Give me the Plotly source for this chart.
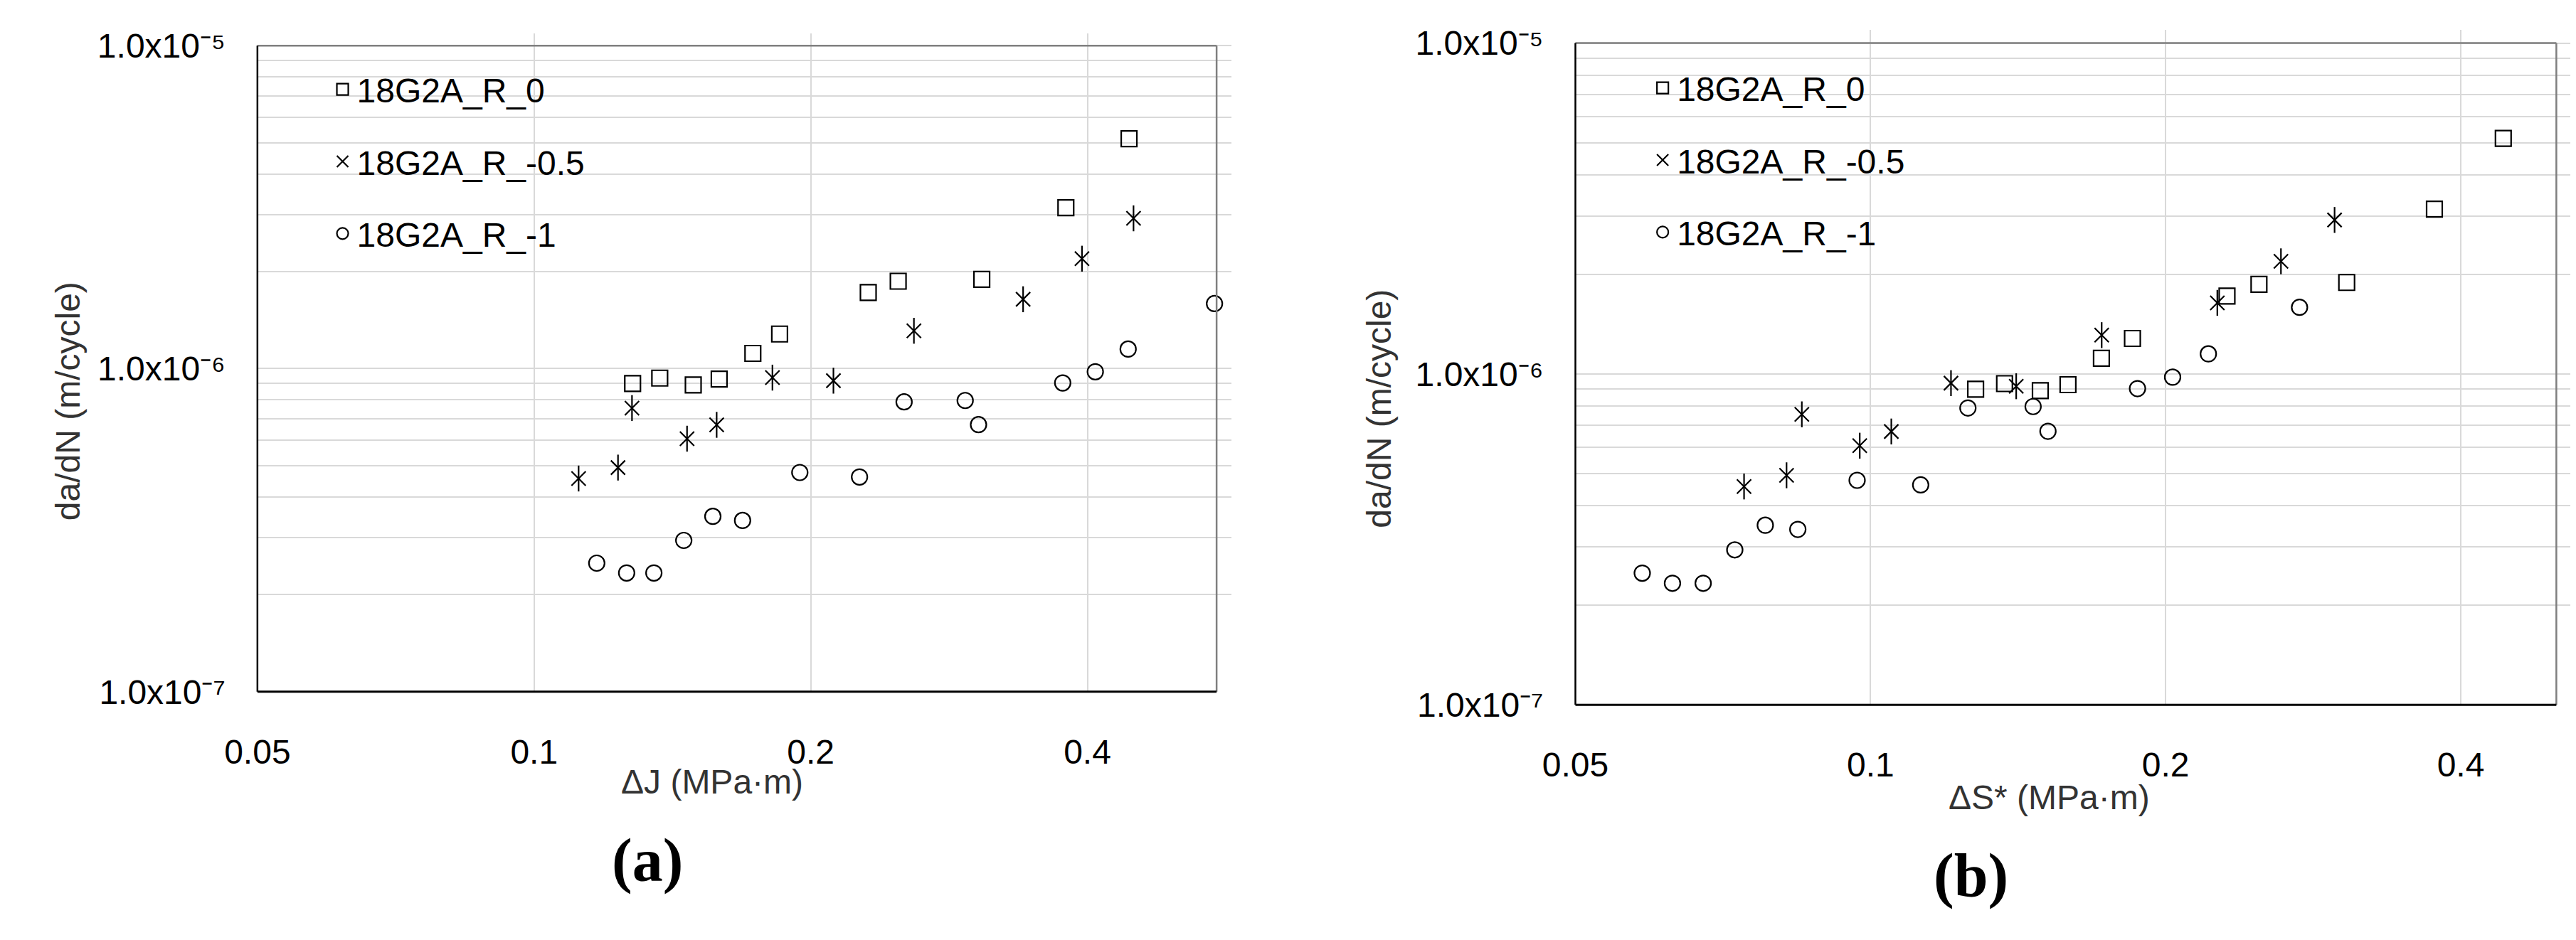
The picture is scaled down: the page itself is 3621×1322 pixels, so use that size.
import math
import plotly.graph_objects as go

W, H = 3621, 1322

# ---- values ----
# 18G2A, R = 0
dJ_R0 = [0.128, 0.137, 0.149, 0.159, 0.173, 0.185, 0.231, 0.249, 0.307, 0.379, 0.444]
dS_R0 = [0.128, 0.137, 0.149, 0.159, 0.172, 0.185, 0.231, 0.249, 0.306, 0.376, 0.442]
dadN_R0 = [8.99e-7, 9.35e-7, 8.90e-7, 9.28e-7, 1.115e-6, 1.28e-6, 1.72e-6, 1.865e-6, 1.89e-6, 3.15e-6, 5.15e-6]

# 18G2A, R = -0.5
dJ_R05 = [0.1118, 0.1234, 0.1278, 0.1467, 0.158, 0.1817, 0.2117, 0.259, 0.3405, 0.3946, 0.449]
dS_R05 = [0.0743, 0.0821, 0.0851, 0.0975, 0.105, 0.1208, 0.1408, 0.1721, 0.2258, 0.2622, 0.2974]
dadN_R05 = [4.57e-7, 4.94e-7, 7.55e-7, 6.07e-7, 6.70e-7, 9.38e-7, 9.18e-7, 1.31e-6, 1.64e-6, 2.19e-6, 2.92e-6]

# 18G2A, R = -1
dJ_R1 = [0.117, 0.1261, 0.135, 0.1455, 0.1565, 0.1686, 0.1946, 0.226, 0.2527, 0.2945, 0.3045,
         0.376, 0.408, 0.443, 0.550]
dS_R1 = [0.0585, 0.0628, 0.0675, 0.0727, 0.0781, 0.0843, 0.0969, 0.1125, 0.1257, 0.1465, 0.1517,
         0.1872, 0.2033, 0.2211, 0.2739]
dadN_R1 = [2.50e-7, 2.33e-7, 2.33e-7, 2.94e-7, 3.49e-7, 3.39e-7, 4.77e-7, 4.62e-7, 7.89e-7, 7.97e-7,
           6.71e-7, 9.03e-7, 9.78e-7, 1.15e-6, 1.59e-6]

names = ["18G2A_R_0", "18G2A_R_-0.5", "18G2A_R_-1"]
x_ticks = [0.05, 0.1, 0.2, 0.4]
x_ticktext = ["0.05", "0.1", "0.2", "0.4"]
y_ticks = [1e-7, 1e-6, 1e-5]
y_ticktext = ["1.0x10\u207b\u2077", "1.0x10\u207b\u2076", "1.0x10\u207b\u2075"]
y_minor = [m * 10.0 ** e for e in (-7, -6) for m in range(2, 10)]

FONT = "Liberation Sans"
GRID = "#d9d9d9"


def px(x):
    return x / W


def py(y):
    return 1 - y / H


def logrange(p0, p1, v0, px_v0, px_per_oct):
    a = math.log10(v0) + (p0 - px_v0) / px_per_oct * math.log10(2)
    b = math.log10(v0) + (p1 - px_v0) / px_per_oct * math.log10(2)
    return [a, b]


def yrange(p_top, p_bot, y_e5, y_e7):
    dec = (y_e7 - y_e5) / 2
    return [-7 - (p_bot - y_e7) / dec, -5 + (y_e5 - p_top) / dec]


fig = go.Figure()


def add_panel(xs, xa, ya, leg):
    sq, st, ci = xs
    fig.add_trace(go.Scatter(x=sq, y=dadN_R0, mode="markers", name=names[0], legendgroup=leg + "a",
                             legend=leg, xaxis=xa, yaxis=ya, cliponaxis=False,
                             marker=dict(symbol="square-open", size=22, color="black", line=dict(width=2.2))))
    fig.add_trace(go.Scatter(x=st, y=dadN_R05, mode="markers", name=names[1], legendgroup=leg + "b",
                             legend=leg, xaxis=xa, yaxis=ya, cliponaxis=False,
                             marker=dict(symbol="x-thin-open", size=20, color="black", line=dict(width=2.2))))
    fig.add_trace(go.Scatter(x=st, y=dadN_R05, mode="markers", name=names[1], legendgroup=leg + "b",
                             showlegend=False, xaxis=xa, yaxis=ya, cliponaxis=False,
                             marker=dict(symbol="line-ns-open", size=26, color="black", line=dict(width=2.2))))
    fig.add_trace(go.Scatter(x=ci, y=dadN_R1, mode="markers", name=names[2], legendgroup=leg + "c",
                             legend=leg, xaxis=xa, yaxis=ya, cliponaxis=False,
                             marker=dict(symbol="circle-open", size=22, color="black", line=dict(width=2.2))))


add_panel((dJ_R0, dJ_R05, dJ_R1), "x", "y", "legend")
add_panel((dS_R0, dS_R05, dS_R1), "x2", "y2", "legend2")

# panel geometry in reference pixels
panels = [
    dict(l=319, gr=1706, br=1685, gt=40, bt=57.7, b=991, oct=394),
    dict(l=2196, gr=3613, br=3593, gt=35, bt=54, b=1010, oct=420.3),
]

xaxis_common = dict(type="log", tickvals=x_ticks, ticktext=x_ticktext, showgrid=True, gridcolor=GRID,
                    gridwidth=2, zeroline=False, showline=False, ticks="", ticklabelstandoff=52,
                    tickfont=dict(family=FONT, size=48, color="black"))
yaxis_common = dict(type="log", tickvals=y_ticks, ticktext=y_ticktext, showgrid=True, gridcolor=GRID,
                    gridwidth=2, zeroline=False, showline=False, ticks="", ticklabelstandoff=44,
                    minor=dict(tickvals=y_minor, showgrid=True, gridcolor=GRID, gridwidth=2, ticks=""),
                    tickfont=dict(family=FONT, size=48, color="black"))

for i, p in enumerate(panels):
    sfx = "" if i == 0 else "2"
    fig.layout["xaxis" + sfx] = dict(xaxis_common, domain=[px(p["l"]), px(p["gr"])],
                                     range=logrange(p["l"], p["gr"], 0.05, p["l"], p["oct"]),
                                     anchor="y" + sfx)
    fig.layout["yaxis" + sfx] = dict(yaxis_common, domain=[py(p["b"]), py(p["gt"])],
                                     range=yrange(p["gt"], p["b"], p["bt"], p["b"]),
                                     anchor="x" + sfx)

shapes = []
legend_boxes = [(331, 57.7, 885, 371), (2207, 54, 2776, 377)]
for p, (x0, y0, x1, y1) in zip(panels, legend_boxes):
    shapes.append(dict(type="rect", xref="paper", yref="paper", layer="between",
                       x0=px(x0), x1=px(x1), y0=py(y1), y1=py(y0), fillcolor="white", line=dict(width=0)))
    shapes.append(dict(type="line", xref="paper", yref="paper", x0=px(p["l"]), x1=px(p["br"]),
                       y0=py(p["bt"]), y1=py(p["bt"]), line=dict(color="#7f7f7f", width=2.5)))
    shapes.append(dict(type="line", xref="paper", yref="paper", x0=px(p["br"]), x1=px(p["br"]),
                       y0=py(p["bt"]), y1=py(p["b"]), line=dict(color="#7f7f7f", width=2.5)))
    shapes.append(dict(type="line", xref="paper", yref="paper", x0=px(p["l"]), x1=px(p["l"]),
                       y0=py(p["bt"]), y1=py(p["b"]), line=dict(color="black", width=2.5)))
    shapes.append(dict(type="line", xref="paper", yref="paper", x0=px(p["l"]), x1=px(p["br"]),
                       y0=py(p["b"]), y1=py(p["b"]), line=dict(color="black", width=3)))

title_font = dict(family=FONT, size=48, color="#333333")
label_font = dict(family="Liberation Serif", size=86, color="black")
annotations = [
    dict(text="da/dN (m/cycle)", x=px(50), y=py(571), textangle=-90, font=title_font),
    dict(text="da/dN (m/cycle)", x=px(1916), y=py(582), textangle=-90, font=title_font),
    dict(text="\u0394J (MPa\u00b7m)", x=px(967), y=py(1121), font=title_font),
    dict(text="\u0394S* (MPa\u00b7m)", x=px(2871), y=py(1144), font=title_font),
    dict(text="<b>(a)</b>", x=px(874), y=py(1235), font=label_font),
    dict(text="<b>(b)</b>", x=px(2759), y=py(1256), font=label_font),
]
for a in annotations:
    a.update(xref="paper", yref="paper", showarrow=False, xanchor="center", yanchor="middle")

legend_common = dict(xanchor="left", yanchor="top", bgcolor="rgba(0,0,0,0)", borderwidth=0,
                     font=dict(family=FONT, size=48, color="black"), tracegroupgap=36, itemsizing="trace")

fig.update_layout(
    width=W, height=H,
    margin=dict(l=0, r=0, t=0, b=0),
    paper_bgcolor="white", plot_bgcolor="white",
    showlegend=True,
    legend=dict(legend_common, x=px(420), y=py(82)),
    legend2=dict(legend_common, x=px(2300), y=py(80)),
    shapes=shapes,
    annotations=annotations,
)

# drop the default page margin so the figure sits at the window's top-left corner
fig.write_html("out.html", config={"displayModeBar": False},
               post_script="document.body.style.margin='0';")
